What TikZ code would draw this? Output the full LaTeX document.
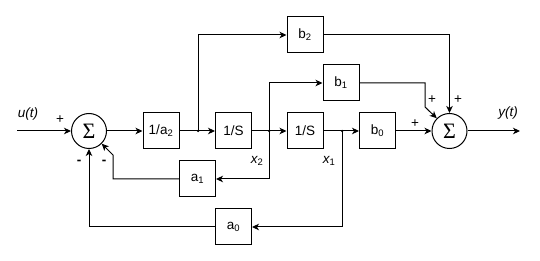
\documentclass[tikz,border=0pt]{standalone}
\usepackage{fontspec}
\setmainfont{Liberation Sans}
\newfontfamily\sigfont{Liberation Serif}
\usetikzlibrary{arrows.meta}
\tikzset{
  blk/.style  ={rectangle, draw, line width=1pt, minimum width=36pt, minimum height=36pt,
                inner sep=0pt, font=\fontsize{13.5}{15}\selectfont},
  sumnd/.style={circle, draw, line width=1pt, minimum size=35pt, inner sep=0pt,
                font=\sigfont\fontsize{22}{24}\selectfont},
  sig/.style  ={-{Stealth[length=7pt,width=6.5pt,inset=2pt]}, line width=1pt},
  wire/.style ={line width=1pt},
  tap/.style  ={circle, fill, inner sep=0pt, minimum size=2.5pt},
  lbl/.style  ={font=\fontsize{13.5}{15}\selectfont},
}
\begin{document}
\begin{tikzpicture}[x=1pt, y=-1pt]
  \useasboundingbox (0,0) rectangle (540,261);
  % blocks
  \node[sumnd] (sumin)  at (89,131)    {Σ};
  \node[blk]   (inva2)  at (161,131)   {1/a\textsubscript{2}};
  \node[blk]   (intA)   at (233.5,131) {1/S};
  \node[blk]   (intB)   at (305,131)   {1/S};
  \node[blk]   (gb0)    at (377.5,131) {b\textsubscript{0}};
  \node[blk]   (gb1)    at (341,83)    {b\textsubscript{1}};
  \node[blk]   (gb2)    at (305,35)    {b\textsubscript{2}};
  \node[blk]   (ga1)    at (197.5,179) {a\textsubscript{1}};
  \node[blk]   (ga0)    at (233.5,227) {a\textsubscript{0}};
  \node[sumnd] (sumout) at (449.5,131) {Σ};
  % branch points and corners
  \coordinate (uin)  at (17,131);
  \coordinate (yout) at (520,131);
  \coordinate (k1)   at (113,155);
  \coordinate (k2)   at (425,107);
  \node[tap] (br1) at (198,131) {};
  \node[tap] (br2) at (269,131) {};
  \node[tap] (br3) at (342,131) {};
  % forward path
  \draw[sig] (uin) -- (sumin);
  \draw[sig] (sumin) -- (inva2);
  \draw[sig] (inva2) -- (intA);
  \draw[sig] (intA) -- (intB);
  \draw[sig] (intB) -- (gb0);
  \draw[sig] (gb0) -- (sumout);
  \draw[sig] (sumout) -- (yout);
  % feed-forward
  \draw[sig] (br1.center) |- (gb2.west);
  \draw[sig] (br2.center) |- (gb1.west);
  \draw[sig] (gb2.east) -| (sumout.north);
  \draw[sig] (gb1.east) -| (k2) -- (sumout.135);
  % feedback
  \draw[sig] (br2.center) |- (ga1.east);
  \draw[sig] (br3.center) |- (ga0.east);
  \draw[sig] (ga1.west) -| (k1) -- (sumin.-45);
  \draw[sig] (ga0.west) -| (sumin.south);
  % labels
  \node[lbl] (lu)  at (28,114)  {\itshape u(t)};
  \node[lbl] (ly)  at (508,113) {\itshape y(t)};
  \node[lbl] (lx2) at (257,161) {\itshape x\textsubscript{\upshape 2}};
  \node[lbl] (lx1) at (329,161) {\itshape x\textsubscript{\upshape 1}};
  \node[lbl] (p1)  at (60,120)  {+};
  \node[lbl] (p2)  at (432,100) {+};
  \node[lbl] (p3)  at (458,100) {+};
  \node[lbl] (p4)  at (415,124) {+};
  \node[lbl, font=\bfseries\fontsize{13.5}{15}\selectfont] (m1) at (79,162)  {-};
  \node[lbl, font=\bfseries\fontsize{13.5}{15}\selectfont] (m2) at (104,162) {-};
\end{tikzpicture}
\end{document}
